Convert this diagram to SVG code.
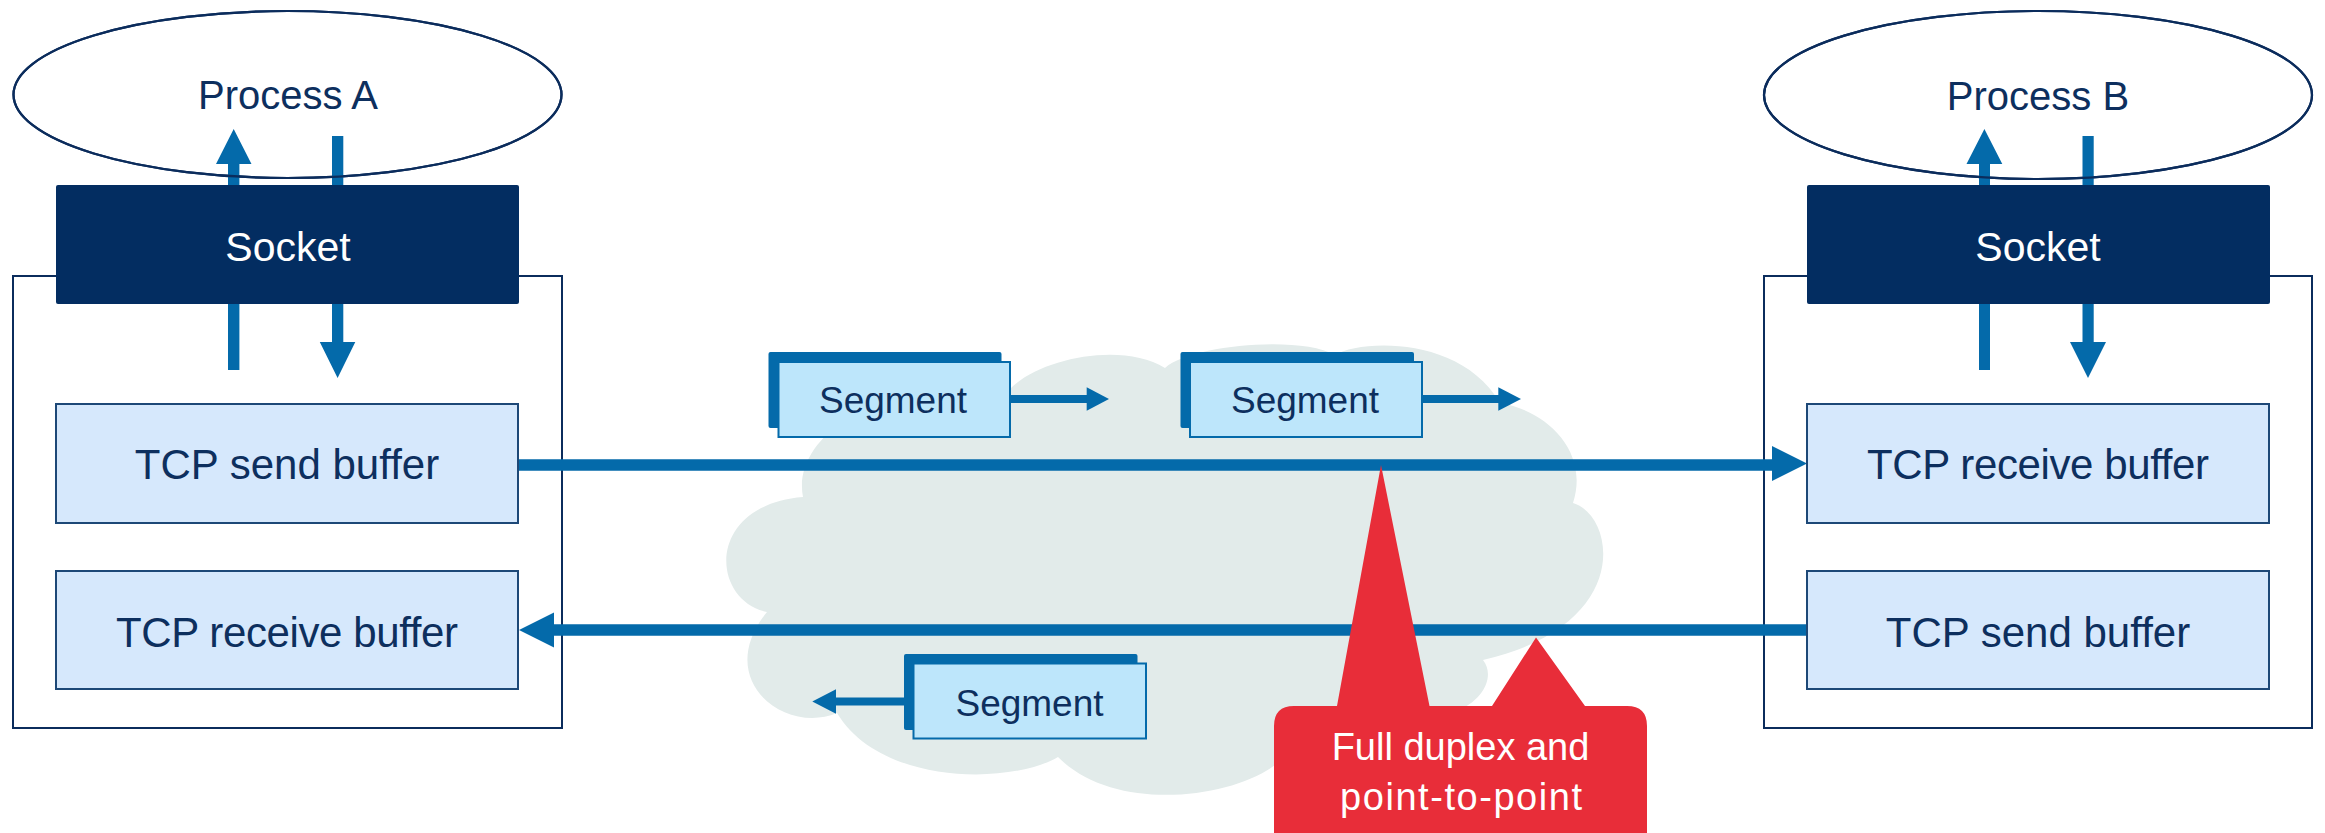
<svg xmlns="http://www.w3.org/2000/svg" width="2325" height="833" viewBox="0 0 2325 833">
<defs>
<style>
.proc{fill:#ffffff;stroke:#0b2c5c;stroke-width:2.2}
.outer{fill:#ffffff;stroke:#0b2c5c;stroke-width:2}
.sock{fill:#032d61}
.buf{fill:#d6e8fc;stroke:#1d4877;stroke-width:2}
.segb{fill:#046aaa}
.segf{fill:#bde6fb;stroke:#046aaa;stroke-width:2}
.t{font-family:"Liberation Sans",Arial,sans-serif;text-anchor:middle}
.tn{fill:#0d2f5e;font-size:41px}
.tb{fill:#0d2f5e;font-size:42px}
.tw{fill:#ffffff;font-size:41px}
.ts{fill:#0d2f5e;font-size:37px}
.tc{fill:#ffffff;font-size:38px}
.ar{fill:#046aaa}
.ln{stroke:#046aaa;fill:none}
</style>
</defs>
<rect width="2325" height="833" fill="#ffffff"/>
<g id="cloud">
<path fill="#e2ebea" d="M803 497 C790 430 900 370 1005 395 C1030 360 1120 340 1165 368 C1190 345 1300 335 1335 355 C1360 340 1460 335 1500 403 C1545 410 1590 450 1573 503 C1615 515 1635 625 1483 660 C1495 675 1485 700 1455 712 L1290 750 C1260 795 1120 820 1058 757 C1010 785 880 785 837 713 C785 735 712 680 767 612 C710 600 705 505 803 497 Z"/>
</g>
<g id="process-a"><ellipse class="proc" cx="287.5" cy="94.5" rx="274" ry="83.5"/><text class="t tn" x="288" y="109" style="font-size:40px">Process A</text></g>
<g id="process-b"><ellipse class="proc" cx="2038" cy="95" rx="274" ry="84"/><text class="t tn" x="2038" y="110" style="font-size:40px">Process B</text></g>
<g id="host-a"><rect class="outer" x="13" y="276" width="549" height="452"/></g>
<g id="host-b"><rect class="outer" x="1764" y="276" width="548" height="452"/></g>
<g id="connectors">
<path class="ar" d="M228 370 L228 164 L216 164 L233.7 129 L251.5 164 L239.4 164 L239.4 370 Z"/>
<path class="ar" d="M332 136 L343.3 136 L343.3 342 L355.3 342 L337.6 378 L319.8 342 L332 342 Z"/>
<path class="ar" d="M1979 370 L1979 164 L1966.5 164 L1984.4 129 L2002.3 164 L1990 164 L1990 370 Z"/>
<path class="ar" d="M2082.5 136 L2093.7 136 L2093.7 342 L2106 342 L2088 378 L2070 342 L2082.5 342 Z"/>
<line class="ln" x1="518" y1="465" x2="1775" y2="465" stroke-width="11.5"/>
<path class="ar" d="M1772 446 L1807 463.5 L1772 481 Z"/>
<line class="ln" x1="1807" y1="630" x2="550" y2="630" stroke-width="11.5"/>
<path class="ar" d="M554 612.5 L519 630 L554 647.5 Z"/>
<line class="ln" x1="1010" y1="399" x2="1090" y2="399" stroke-width="8"/>
<path class="ar" d="M1086.7 387.3 L1109 399 L1086.7 410.7 Z"/>
<line class="ln" x1="1422" y1="399" x2="1502" y2="399" stroke-width="8"/>
<path class="ar" d="M1498.3 387.3 L1521 399 L1498.3 410.7 Z"/>
<line class="ln" x1="904" y1="701.5" x2="832" y2="701.5" stroke-width="8"/>
<path class="ar" d="M836 689.3 L812.3 701.5 L836 713.7 Z"/>
</g>
<g id="ellipse-edges"><ellipse cx="287.5" cy="94.5" rx="274" ry="83.5" fill="none" stroke="#0b2c5c" stroke-width="2.2"/><ellipse cx="2038" cy="95" rx="274" ry="84" fill="none" stroke="#0b2c5c" stroke-width="2.2"/></g>
<g id="socket-a"><rect class="sock" x="56" y="185" width="463" height="119" rx="2"/><text class="t tw" x="288" y="261">Socket</text></g>
<g id="socket-b"><rect class="sock" x="1807" y="185" width="463" height="119" rx="2"/><text class="t tw" x="2038" y="261">Socket</text></g>
<g id="send-buffer-a"><rect class="buf" x="56" y="404" width="462" height="119"/><text class="t tb" x="287" y="479">TCP send buffer</text></g>
<g id="receive-buffer-a"><rect class="buf" x="56" y="571" width="462" height="118"/><text class="t tb" x="287" y="647" textLength="342" lengthAdjust="spacing">TCP receive buffer</text></g>
<g id="receive-buffer-b"><rect class="buf" x="1807" y="404" width="462" height="119"/><text class="t tb" x="2038" y="479" textLength="342" lengthAdjust="spacing">TCP receive buffer</text></g>
<g id="send-buffer-b"><rect class="buf" x="1807" y="571" width="462" height="118"/><text class="t tb" x="2038" y="647">TCP send buffer</text></g>
<g id="segment-1"><rect class="segb" x="768.5" y="352" width="233" height="76" rx="2"/><rect class="segf" x="778.5" y="362" width="231.5" height="75"/><text class="t ts" x="893" y="413">Segment</text></g>
<g id="segment-2"><rect class="segb" x="1180.5" y="352" width="233.5" height="76" rx="2"/><rect class="segf" x="1190" y="362" width="232" height="75"/><text class="t ts" x="1305" y="413">Segment</text></g>
<g id="segment-3"><rect class="segb" x="904" y="654" width="233.5" height="76" rx="2"/><rect class="segf" x="913.5" y="663.5" width="232.5" height="75"/><text class="t ts" x="1029.5" y="716">Segment</text></g>
<g id="callout">
<path fill="#e82d39" d="M1337 706 L1381 465 L1429.5 706 L1492 706 L1536 637.5 L1585 706 L1627 706 Q1647 706 1647 726 L1647 860 L1274 860 L1274 726 Q1274 706 1294 706 Z"/>
<text class="t tc" x="1460.5" y="760">Full duplex and</text>
<text class="t tc" x="1461" y="810" textLength="242" lengthAdjust="spacing">point-to-point</text>
</g>
</svg>
